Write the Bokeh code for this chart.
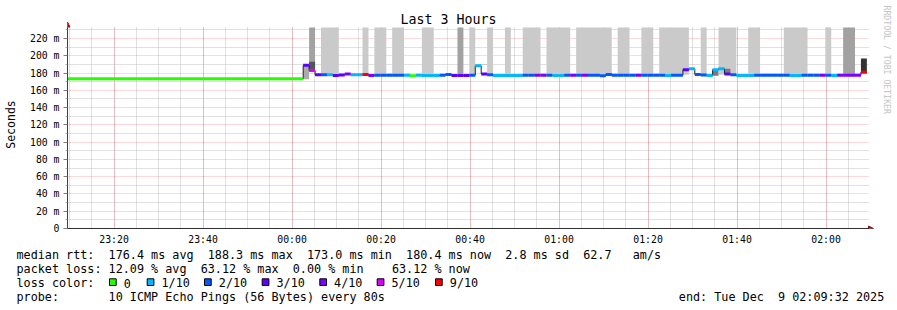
import re
import pandas as pd
from bokeh.plotting import figure
from bokeh.layouts import column
from bokeh.models import (Range1d, FixedTicker, DatetimeTickFormatter, Title,
                          Arrow, NormalHead, ColumnDataSource)
from bokeh.core.properties import value
from bokeh.embed import file_html
from bokeh.resources import INLINE

# ---------------- data ----------------
chart_start = pd.Timestamp("2025-12-08 23:09:32")
chart_end = pd.Timestamp("2025-12-09 02:09:32")
first_sample = pd.Timestamp("2025-12-09 00:02:30")
step_seconds = 80

# consolidated (older) data before the first 80 s sample
history_median = 173.4
history_loss = 0

# median rtt (ms) per 80 s sample
median_ms = [
    189.0, 183.0, 178.0, 178.0, 178.0, 177.2, 177.8, 178.8, 178.0, 178.0,
    178.5, 177.3, 177.5, 177.5, 177.5, 177.5, 177.5, 177.5, 177.0, 177.5,
    177.3, 177.3, 177.3, 177.5, 178.5, 177.3, 177.3, 177.3, 177.5, 188.5,
    179.0, 178.0, 177.2, 177.2, 177.2, 177.2, 177.2, 177.5, 177.5, 177.5,
    177.5, 177.5, 177.3, 177.3, 177.5, 177.5, 177.5, 177.5, 177.5, 177.5,
    177.0, 178.5, 177.5, 177.5, 177.5, 177.5, 177.5, 177.5, 177.5, 177.5,
    177.5, 177.3, 177.5, 177.5, 184.0, 185.0, 178.5, 177.8, 177.3, 184.0,
    185.0, 179.0, 178.0, 177.3, 177.3, 177.3, 177.5, 177.5, 177.5, 177.5,
    177.5, 177.5, 177.3, 177.3, 177.5, 177.5, 177.5, 177.5, 177.5, 177.3,
    177.5, 177.5, 177.5, 177.5, 181.0,
]
# lost pings (out of 10) per sample
loss_pings = [
    3, 5, 3, 2, 1, 3, 3, 4, 1, 1,
    9, 4, 2, 2, 2, 2, 2, 1, 0, 1,
    1, 1, 1, 2, 2, 3, 3, 3, 2, 1,
    3, 2, 1, 1, 1, 1, 1, 2, 2, 4,
    4, 2, 1, 1, 2, 4, 2, 4, 2, 2,
    2, 2, 2, 2, 2, 2, 4, 2, 2, 2,
    2, 1, 2, 2, 3, 1, 2, 2, 1, 1,
    1, 3, 2, 1, 1, 1, 2, 2, 2, 2,
    2, 2, 1, 1, 2, 2, 2, 4, 2, 1,
    4, 4, 4, 4, 9,
]

# smoke bands (ping spread): first/last sample index, low/high ms, ping density
smoke_first = [0, 1, 1, 3, 10, 12, 15, 20, 26, 28, 29, 31, 34, 37, 41, 46, 53, 57, 60, 67, 69, 70, 71, 75, 81, 88, 91, 94]
smoke_last = [0, 1, 1, 5, 10, 13, 16, 21, 26, 28, 30, 31, 34, 39, 44, 51, 54, 58, 64, 67, 69, 72, 71, 76, 84, 88, 92, 94]
smoke_low = [173.0, 183.0, 184.0, 178.0, 178.0, 178.0, 178.0, 178.0, 178.0, 178.0, 189.3, 178.0, 178.0, 178.0,
             178.0, 178.0, 178.0, 178.0, 178.0, 178.0, 177.0, 178.0, 180.0, 178.0, 178.0, 178.0, 178.0, 180.0]
smoke_high = [189.0, 260.0, 193.0, 260.0, 260.0, 260.0, 260.0, 260.0, 260.0, 260.0, 190.5, 260.0, 260.0, 260.0,
              260.0, 260.0, 260.0, 260.0, 260.0, 260.0, 183.0, 260.0, 185.0, 260.0, 260.0, 260.0, 260.0, 197.0]
smoke_density = [3, 2, 5, 1, 1, 1, 1, 1, 2, 1, 1, 1, 1, 1, 1, 1, 1, 1, 1, 1, 4, 1, 4, 1, 1, 1, 2, 6]

# axes
y_ticks = [0, 20, 40, 60, 80, 100, 120, 140, 160, 180, 200, 220]
y_tick_labels = ["0", "20 m", "40 m", "60 m", "80 m", "100 m", "120 m", "140 m",
                 "160 m", "180 m", "200 m", "220 m"]
y_minor_ticks = [10, 30, 50, 70, 90, 110, 130, 150, 170, 190, 210, 230]
y_top = 232.8

# legend texts
legend_lines = [
    "median rtt:  176.4 ms avg  188.3 ms max  173.0 ms min  180.4 ms now  2.8 ms sd  62.7   am/s",
    "packet loss: 12.09 % avg  63.12 % max  0.00 % min    63.12 % now",
    "loss color:",
    "probe:       10 ICMP Echo Pings (56 Bytes) every 80s",
]
legend_loss_levels = [0, 1, 2, 3, 4, 5, 9]
legend_loss_names = ["0", "1/10", "2/10", "3/10", "4/10", "5/10", "9/10"]
end_text = "end: Tue Dec  9 02:09:32 2025"
title_text = "Last 3 Hours"
y_title = "Seconds"
credit = "RRDTOOL / TOBI OETIKER"

# ---------------- styles / layout ----------------
LOSS_COLORS = {0: "#26ff00", 1: "#00b8ff", 2: "#0059ff", 3: "#5e00ff",
               4: "#7e00ff", 5: "#dd00ff", 9: "#ff0000"}
SMOKE_COLORS = {1: "#cacaca", 2: "#a2a2a2", 3: "#ababab", 4: "#7a7a7a",
                5: "#555555", 6: "#333333"}
MONO = "DejaVu Sans Mono"
W = 897
H_MAIN, H_LEG = 249, 61
FRAME_L, FRAME_R, FRAME_T, FRAME_B = 67, 874, 20, 228
PLOT_R, PLOT_T = 868, 27           # right / top end of the rrd graph area
SPP = (chart_end - chart_start).total_seconds() / (PLOT_R - FRAME_L)   # seconds / px
PPM = (FRAME_B - PLOT_T) / y_top   # px / ms


def ms(ts):
    return ts.value / 1e6


def keep_spaces(s):
    return re.sub(r" {2,}", lambda m: "\u00a0" * len(m.group()), s)


x_hi = chart_end + pd.Timedelta(seconds=SPP * (FRAME_R - PLOT_R))
y_hi = (FRAME_B - FRAME_T) / PPM

step = pd.Timedelta(seconds=step_seconds)
n = len(median_ms)
starts = [first_sample + k * step for k in range(n)]
ends = [s + step for s in starts]

p = figure(width=W, height=H_MAIN, output_backend="svg", toolbar_location=None,
           x_axis_type="datetime",
           x_range=Range1d(ms(chart_start), ms(x_hi)), y_range=Range1d(0, y_hi),
           min_border_left=FRAME_L, min_border_right=W - FRAME_R,
           min_border_top=FRAME_T, min_border_bottom=H_MAIN - FRAME_B,
           background_fill_color="white", border_fill_color="white",
           outline_line_color=None, title=None)

# smoke (clipped at the top of the graph area, like rrdtool)
smoke_src = ColumnDataSource(dict(
    left=[starts[a] for a in smoke_first],
    right=[ends[b] for b in smoke_last],
    bottom=smoke_low, top=[min(h, y_top) for h in smoke_high],
    color=[SMOKE_COLORS[d] for d in smoke_density]))
p.quad(left="left", right="right", bottom="bottom", top="top",
       fill_color="color", line_color=None, source=smoke_src)

# median step line (dark)
xs = [chart_start] + starts + [ends[-1]]
ys = [history_median] + median_ms + [median_ms[-1]]
p.step(xs, ys, mode="after", line_color="#202020", line_width=1)

# loss coloured median bars
seg_src = ColumnDataSource(dict(
    x0=[chart_start] + starts, x1=[first_sample] + ends,
    y=[history_median] + median_ms,
    color=[LOSS_COLORS[l] for l in [history_loss] + loss_pings]))
p.segment(x0="x0", x1="x1", y0="y", y1="y", line_color="color",
          line_width=3, line_cap="butt", source=seg_src)

# ticks and grids
maj_x = pd.date_range("2025-12-08 23:20", "2025-12-09 02:00", freq="20min")
min_x = pd.date_range("2025-12-08 23:10", "2025-12-09 02:05", freq="5min")
p.xaxis.ticker = FixedTicker(ticks=[ms(t) for t in maj_x],
                             minor_ticks=[ms(t) for t in min_x])
p.yaxis.ticker = FixedTicker(ticks=y_ticks, minor_ticks=y_minor_ticks)
p.xaxis.formatter = DatetimeTickFormatter(minutes="%H:%M", hourmin="%H:%M",
                                          hours="%H:%M", minsec="%H:%M",
                                          boundary_scaling=False)
p.yaxis.major_label_overrides = {t: s for t, s in zip(y_ticks, y_tick_labels)}
p.xaxis.bounds = (ms(chart_start), ms(chart_end))
p.yaxis.bounds = (0, y_top)

for g in (p.xgrid, p.ygrid):
    g.grid_line_color = "#ff0000"
    g.grid_line_alpha = 0.3
    g.grid_line_dash = "1 1"
    g.minor_grid_line_color = "#b4b4b4"
    g.minor_grid_line_alpha = 0.8
    g.minor_grid_line_dash = "1 1"
try:
    p.xgrid.cross_bounds = (0, y_top)
    p.ygrid.cross_bounds = (ms(chart_start), ms(chart_end))
except Exception:
    pass

for ax in (p.xaxis, p.yaxis):
    ax.major_label_text_font = MONO
    ax.major_label_text_font_size = "9.8px"
    ax.major_label_text_color = "#000000"
    ax.axis_line_color = "#404040"
    ax.major_tick_line_color = "#808080"
    ax.minor_tick_line_color = "#b0b0b0"

p.yaxis.major_tick_out = 4
p.yaxis.major_tick_in = 0
p.yaxis.minor_tick_out = 2
p.yaxis.minor_tick_in = 0
p.yaxis.major_label_standoff = 4
p.yaxis.axis_label = y_title
p.yaxis.axis_label_text_font = MONO
p.yaxis.axis_label_text_font_size = "11.5px"
p.yaxis.axis_label_text_font_style = "normal"
p.yaxis.axis_label_text_color = "#000000"
p.yaxis.axis_label_standoff = 9
p.xaxis.major_tick_out = 0
p.xaxis.major_tick_in = 0
p.xaxis.minor_tick_out = 0
p.xaxis.minor_tick_in = 0
p.xaxis.major_label_standoff = 5

# axis arrows (rrdtool style)
p.add_layout(Arrow(end=NormalHead(size=5, fill_color="#a01010", line_color="#a01010", line_width=1),
                   x_start=ms(chart_start), y_start=0,
                   x_end=ms(chart_start), y_end=(FRAME_B - 21.5) / PPM,
                   line_color="#404040", line_width=1))
p.add_layout(Arrow(end=NormalHead(size=5, fill_color="#a01010", line_color="#a01010", line_width=1),
                   x_start=ms(chart_start), y_start=0,
                   x_end=ms(chart_end + pd.Timedelta(seconds=SPP * 5)), y_end=0,
                   line_color="#202020", line_width=1))

# title and credit
p.add_layout(Title(text=title_text, align="left", offset=400 - FRAME_L, standoff=-13,
                   vertical_align="bottom", text_font=MONO, text_font_size="13.3px",
                   text_font_style="normal", text_color="#000000"), "above")
p.add_layout(Title(text=credit, align="left", offset=-15, standoff=11,
                   vertical_align="top", text_font=MONO, text_font_size="8.2px",
                   text_font_style="normal", text_color="#c4c4c4"), "right")

# ---------------- legend block (pixel coordinates, y downward) ----------------
leg = figure(width=W, height=H_LEG, output_backend="svg", toolbar_location=None,
             x_range=Range1d(0, W), y_range=Range1d(H_LEG, 0),
             min_border=0, x_axis_location=None, y_axis_location=None,
             background_fill_color="white", border_fill_color="white",
             outline_line_color=None)
leg.grid.visible = False
for fig in (p, leg):
    try:
        fig.frame_align = False
    except Exception:
        pass

row_y = [254.5 - H_MAIN, 268.5 - H_MAIN, 282.5 - H_MAIN, 296.5 - H_MAIN]
txt_x = [16, 16, 16, 16, 678.3]
txt_y = row_y + [row_y[3]]
txt = [keep_spaces(s) for s in legend_lines + [end_text]]
swatch_x = [109, 146.7, 204, 261.7, 319.3, 376.7, 435]
txt_x += [sx + 14.3 for sx in swatch_x]
txt_y += [row_y[2]] * len(swatch_x)
txt += legend_loss_names
leg.text(x=txt_x, y=txt_y, text=txt, text_font=value(MONO), text_font_size=value("11.78px"),
         text_align="left", text_baseline="middle", text_color="#000000")
leg.quad(left=swatch_x, right=[sx + 6.7 for sx in swatch_x],
         top=[278.3 - H_MAIN] * len(swatch_x), bottom=[285 - H_MAIN] * len(swatch_x),
         fill_color=[LOSS_COLORS[l] for l in legend_loss_levels],
         line_color="#000000", line_width=1)

layout = column(p, leg, spacing=0)
open("out.html", "w").write(file_html(layout, INLINE))
